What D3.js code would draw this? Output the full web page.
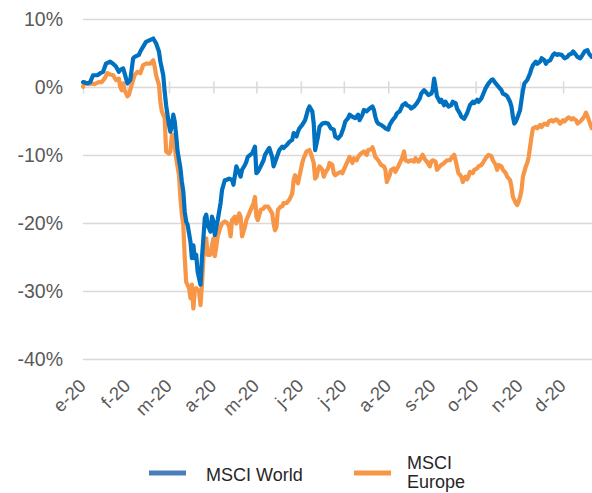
<!DOCTYPE html>
<html>
<head>
	<title>MSCI World vs MSCI Europe 2020</title>
	<script src="https://d3js.org/d3.v7.min.js"></script>
	<style>
		body { margin: 0; background: #fff; }
		text { font-family: "Liberation Sans", Arial, sans-serif; }
	</style>
</head>
<body>
	<div id="chart"></div>

	<script type="text/javascript">

//<------------------------------------DATA----------------------------------------------->
		// month tick labels (spanish initials)
		var monthLabels = ["e-20","f-20","m-20","a-20","m-20","j-20","j-20","a-20","s-20","o-20","n-20","d-20"];
		var yTicks = [10, 0, -10, -20, -30, -40];
		var seriesNames = ["MSCI World", "MSCI Europe"];

		// cumulative return in %, [month-day of 2020, value]
		var world = [
			["01-01",0.8],["01-04",0.6],["01-06",0.8],["01-08",1.8],["01-11",1.8],["01-13",2.1],["01-15",2.3],["01-17",3.5],
			["01-20",3.8],["01-22",3.5],["01-24",3.1],["01-26",2.3],["01-27",2.6],["01-29",2.8],["01-30",2.1],["02-01",0.6],
			["02-03",1.1],["02-05",4.3],["02-06",4.5],["02-09",4.8],["02-10",5.3],["02-12",6.0],["02-14",6.7],["02-17",7.0],
			["02-19",7.2],["02-21",6.5],["02-23",5.3],["02-24",3.8],["02-26",1.8],["02-27",-0.6],["02-28",-2.6],["03-01",-5.5],
			["03-02",-6.5],["03-03",-5.5],["03-04",-4.0],["03-05",-5.0],["03-06",-7.0],["03-07",-9.4],["03-09",-11.9],["03-10",-13.9],
			["03-11",-15.3],["03-12",-18.3],["03-13",-19.7],["03-14",-20.2],["03-16",-22.7],["03-17",-25.1],["03-18",-23.2],["03-19",-25.1],
			["03-20",-24.6],["03-21",-27.1],["03-23",-29.0],["03-24",-25.1],["03-25",-22.2],["03-26",-19.2],["03-27",-18.7],["03-28",-20.2],
			["03-30",-21.2],["03-31",-19.0],["04-01",-19.7],["04-02",-21.7],["04-04",-19.5],["04-06",-17.0],["04-07",-15.1],["04-09",-13.6],
			["04-10",-13.6],["04-12",-13.4],["04-14",-13.6],["04-15",-14.3],["04-17",-11.6],["04-18",-12.1],["04-20",-13.1],["04-21",-12.1],
			["04-23",-11.4],["04-24",-10.9],["04-25",-10.2],["04-28",-9.7],["04-30",-8.7],["05-01",-12.6],["05-02",-12.4],["05-04",-11.6],
			["05-06",-10.7],["05-07",-9.9],["05-09",-9.2],["05-10",-8.9],["05-12",-10.2],["05-13",-11.6],["05-15",-10.4],["05-17",-9.2],
			["05-19",-8.7],["05-20",-8.9],["05-22",-8.5],["05-24",-8.0],["05-26",-7.7],["05-27",-6.7],["05-29",-7.2],["05-30",-6.5],
			["05-31",-6.0],["06-02",-5.5],["06-04",-4.8],["06-06",-3.3],["06-07",-2.8],["06-09",-3.5],["06-10",-5.3],["06-11",-9.2],
			["06-13",-7.2],["06-14",-5.8],["06-16",-5.3],["06-18",-5.2],["06-20",-5.3],["06-22",-6.0],["06-24",-6.2],["06-25",-7.2],
			["06-27",-7.5],["06-29",-7.0],["07-01",-5.8],["07-02",-5.0],["07-04",-4.5],["07-05",-4.0],["07-07",-4.3],["07-09",-4.5],
			["07-11",-4.0],["07-12",-4.8],["07-14",-4.0],["07-15",-3.3],["07-17",-3.5],["07-19",-3.1],["07-21",-2.8],["07-22",-3.3],
			["07-23",-4.3],["07-24",-5.0],["07-25",-5.3],["07-27",-5.5],["07-29",-5.8],["07-30",-6.0],["08-01",-6.2],["08-02",-5.5],
			["08-04",-4.8],["08-06",-4.3],["08-07",-3.8],["08-09",-3.5],["08-11",-2.6],["08-13",-2.3],["08-14",-2.6],["08-16",-2.8],
			["08-17",-3.1],["08-19",-2.8],["08-21",-2.3],["08-23",-1.6],["08-24",-0.9],["08-26",-0.4],["08-27",-0.6],["08-29",-1.1],
			["08-31",-0.9],["09-01",-0.4],["09-02",1.3],["09-03",0.1],["09-04",-1.3],["09-06",-2.1],["09-07",-1.8],["09-09",-2.6],
			["09-10",-2.1],["09-12",-2.8],["09-14",-2.6],["09-15",-2.1],["09-17",-2.3],["09-18",-3.1],["09-20",-3.8],["09-21",-4.3],
			["09-23",-4.6],["09-24",-4.2],["09-25",-3.8],["09-27",-2.6],["09-29",-2.1],["09-30",-2.3],["10-02",-1.8],["10-03",-2.1],
			["10-05",-1.6],["10-06",-1.1],["10-08",-0.1],["10-10",0.6],["10-12",1.1],["10-13",1.2],["10-15",0.6],["10-17",0.1],
			["10-19",-0.4],["10-20",-0.9],["10-22",-1.1],["10-23",-1.3],["10-25",-2.1],["10-26",-2.8],["10-27",-4.3],["10-28",-5.3],
			["10-29",-5.0],["10-30",-4.5],["11-01",-3.3],["11-02",-1.8],["11-03",-0.4],["11-04",0.6],["11-06",1.1],["11-08",2.1],
			["11-09",2.8],["11-10",3.3],["11-12",3.8],["11-13",3.5],["11-15",3.8],["11-16",4.3],["11-18",4.0],["11-19",3.5],
			["11-20",3.8],["11-22",4.0],["11-24",4.8],["11-25",5.0],["11-27",4.8],["11-28",4.9],["11-30",4.8],["12-02",4.3],
			["12-04",4.5],["12-05",4.8],["12-07",5.0],["12-08",5.3],["12-10",4.8],["12-11",4.5],["12-13",4.3],["12-14",4.6],
			["12-16",5.3],["12-18",5.5],["12-19",5.0],["12-21",4.5]
		];

		var europe = [
			["01-01",0.1],["01-02",0.8],["01-05",0.5],["01-07",0.6],["01-09",0.5],["01-12",0.8],["01-14",0.8],["01-16",1.3],
			["01-18",2.1],["01-20",1.9],["01-22",1.8],["01-24",1.1],["01-26",1.3],["01-27",0.1],["01-28",-0.4],["01-29",0.6],
			["01-30",-0.4],["02-01",-1.3],["02-02",-1.1],["02-04",0.4],["02-06",1.8],["02-08",2.3],["02-10",2.1],["02-12",3.3],
			["02-14",3.5],["02-17",3.5],["02-19",4.0],["02-20",3.1],["02-21",1.8],["02-23",0.4],["02-24",-2.1],["02-25",-3.5],
			["02-27",-4.5],["02-28",-9.4],["03-01",-9.7],["03-02",-9.4],["03-03",-7.0],["03-04",-7.0],["03-05",-8.5],["03-06",-10.4],
			["03-08",-12.9],["03-09",-16.3],["03-10",-18.7],["03-11",-20.2],["03-12",-25.1],["03-13",-28.6],["03-15",-29.5],["03-16",-31.0],
			["03-17",-29.0],["03-18",-32.5],["03-19",-30.0],["03-20",-29.5],["03-22",-30.0],["03-23",-32.0],["03-24",-29.0],["03-25",-25.1],
			["03-26",-22.7],["03-27",-22.2],["03-28",-24.6],["03-30",-24.6],["03-31",-23.2],["04-01",-22.2],["04-02",-24.8],["04-03",-23.4],
			["04-04",-21.9],["04-06",-20.5],["04-07",-20.0],["04-09",-19.7],["04-11",-20.0],["04-12",-20.5],["04-13",-21.9],["04-14",-19.5],
			["04-16",-19.0],["04-17",-20.0],["04-19",-18.5],["04-20",-19.0],["04-21",-21.9],["04-23",-20.5],["04-24",-19.5],["04-25",-19.0],
			["04-27",-18.0],["04-29",-17.0],["04-30",-16.1],["05-01",-19.0],["05-02",-19.5],["05-04",-18.0],["05-06",-17.8],["05-07",-17.5],
			["05-09",-17.5],["05-10",-17.8],["05-12",-18.5],["05-13",-20.0],["05-14",-21.0],["05-15",-20.5],["05-16",-18.0],["05-18",-17.5],
			["05-19",-17.5],["05-20",-17.0],["05-22",-17.0],["05-24",-16.5],["05-26",-15.6],["05-27",-13.6],["05-28",-12.9],["05-30",-14.1],
			["05-31",-13.1],["06-02",-11.1],["06-03",-10.4],["06-05",-9.4],["06-07",-9.2],["06-08",-9.7],["06-10",-11.1],["06-11",-13.4],
			["06-12",-13.1],["06-13",-12.1],["06-14",-11.6],["06-16",-12.1],["06-17",-13.1],["06-18",-12.6],["06-20",-11.9],["06-21",-11.1],
			["06-23",-11.4],["06-24",-12.6],["06-25",-12.9],["06-27",-12.6],["06-29",-12.4],["06-30",-12.6],["07-02",-11.6],["07-04",-10.7],
			["07-05",-10.2],["07-07",-11.1],["07-08",-10.4],["07-10",-10.7],["07-11",-10.2],["07-13",-9.7],["07-15",-9.4],["07-17",-9.9],
			["07-18",-9.2],["07-20",-9.1],["07-21",-8.8],["07-22",-9.4],["07-23",-10.2],["07-25",-10.7],["07-27",-11.4],["07-29",-11.6],
			["07-30",-12.1],["07-31",-13.9],["08-02",-12.9],["08-03",-12.1],["08-05",-11.9],["08-06",-12.4],["08-08",-11.6],["08-10",-10.7],
			["08-11",-10.2],["08-12",-9.4],["08-13",-10.7],["08-15",-10.9],["08-17",-10.7],["08-19",-10.9],["08-20",-10.4],["08-22",-10.9],
			["08-23",-10.7],["08-25",-9.9],["08-27",-10.7],["08-28",-10.9],["08-30",-11.6],["08-31",-10.9],["09-01",-10.7],["09-03",-10.9],
			["09-04",-12.1],["09-06",-11.6],["09-07",-11.4],["09-09",-11.1],["09-11",-10.7],["09-13",-10.7],["09-14",-10.4],["09-16",-9.9],
			["09-17",-10.7],["09-19",-12.6],["09-21",-13.1],["09-22",-13.9],["09-24",-13.1],["09-25",-13.5],["09-26",-13.1],["09-27",-12.4],
			["09-29",-12.6],["09-30",-12.1],["10-02",-11.9],["10-03",-11.6],["10-05",-11.4],["10-06",-11.1],["10-08",-10.4],["10-10",-9.9],
			["10-12",-10.1],["10-13",-10.7],["10-15",-11.4],["10-16",-12.1],["10-17",-11.4],["10-19",-11.6],["10-20",-12.1],["10-22",-12.6],
			["10-23",-13.1],["10-25",-13.6],["10-26",-14.6],["10-27",-16.1],["10-29",-17.0],["10-30",-17.3],["10-31",-16.8],["11-01",-16.1],
			["11-02",-15.1],["11-03",-13.1],["11-05",-11.6],["11-06",-11.1],["11-07",-10.2],["11-08",-8.7],["11-09",-7.2],["11-10",-6.0],
			["11-12",-5.8],["11-13",-6.0],["11-15",-5.5],["11-16",-5.8],["11-18",-5.3],["11-20",-5.5],["11-21",-5.0],["11-23",-4.8],
			["11-24",-5.0],["11-26",-4.7],["11-27",-4.8],["11-29",-5.3],["12-01",-4.8],["12-02",-5.0],["12-04",-4.5],["12-05",-4.4],
			["12-07",-4.7],["12-08",-4.5],["12-10",-4.8],["12-11",-5.3],["12-13",-5.0],["12-15",-4.5],["12-16",-4.2],["12-17",-3.7],
			["12-18",-4.2],["12-19",-4.8],["12-21",-6.0]
		];

//<------------------------------------GRAPH----------------------------------------------->
		var width = 592;
		var height = 493;
		var plot = {left: 83, top: 19.5, bottom: 359.5};

		var parse = d3.timeParse("%Y-%m-%d");
		function toPoints(arr){
			return arr.map(function(d){ return {date: parse("2020-" + d[0]), value: d[1]}; });
		}

		var svg = d3.select("#chart")
						.append("svg")
							.attr("width", width)
							.attr("height", height);

		var start = new Date(2020, 0, 1);
		var end = new Date(2021, 0, 1);
		// one year spans ~524px; the picture is cut at the right edge
		var xScale = d3.scaleTime().domain([start, end]).range([plot.left, plot.left + 524.5]);
		var yScale = d3.scaleLinear().domain([-40, 10]).range([plot.bottom, plot.top]);

		// gridlines
		svg.append("g")
			.selectAll("line")
			.data(yTicks)
			.enter().append("line")
				.attr("x1", plot.left)
				.attr("x2", width)
				.attr("y1", function(d){ return yScale(d); })
				.attr("y2", function(d){ return yScale(d); })
				.style("stroke", "#d9d9d9")
				.style("stroke-width", 1.5);

		// y axis labels
		var yAxis = svg.append("g")
			.attr("transform", "translate(" + plot.left + ",0)")
			.call(d3.axisLeft(yScale).tickValues(yTicks).tickSize(0).tickPadding(20)
				.tickFormat(function(d){ return d + "%"; }));
		yAxis.select(".domain").remove();
		yAxis.selectAll("text")
			.style("font-family", "Liberation Sans, Arial, sans-serif")
			.style("font-size", "19.5px")
			.style("fill", "#595959");

		// x axis sits on the 0% line, with crossing tick marks
		var months = d3.timeMonth.range(start, end);
		var xAxis = svg.append("g")
			.attr("transform", "translate(0," + yScale(0) + ")")
			.call(d3.axisBottom(xScale).tickValues(months).tickSize(6).tickFormat(""));
		xAxis.select(".domain").remove();
		xAxis.selectAll(".tick line")
			.attr("y1", -6)
			.style("stroke", "#d9d9d9")
			.style("stroke-width", 1.5);

		// rotated month labels at the bottom
		svg.append("g")
			.selectAll("text")
			.data(months)
			.enter().append("text")
				.attr("transform", function(d){ return "translate(" + (xScale(d) + 4) + ",387) rotate(-45)"; })
				.style("text-anchor", "end")
				.style("font-size", "18.5px")
				.style("fill", "#595959")
				.text(function(d, i){ return monthLabels[i]; });

		// lines
		var line = d3.line()
			.x(function(d){ return xScale(d.date); })
			.y(function(d){ return yScale(d.value); });

		var lineColors = ["#0070c0", "#f79646"];
		var legendColors = ["#4a7ebb", "#f79646"];

		// europe drawn first so world sits on top
		[[europe, 1], [world, 0]].forEach(function(s){
			svg.append("path")
				.datum(toPoints(s[0]))
				.attr("d", line)
				.style("fill", "none")
				.style("stroke", lineColors[s[1]])
				.style("stroke-width", 4.2)
				.style("stroke-linejoin", "round")
				.style("stroke-linecap", "round");
		});

//<------------------------------------LEGEND---------------------------------------------->
		var legend = svg.append("g");
		legend.append("line")
			.attr("x1", 149).attr("x2", 186).attr("y1", 473).attr("y2", 473)
			.style("stroke", legendColors[0]).style("stroke-width", 5);
		legend.append("text")
			.attr("x", 206).attr("y", 481)
			.style("font-size", "18px").style("fill", "#262626")
			.text(seriesNames[0]);

		legend.append("line")
			.attr("x1", 354).attr("x2", 391).attr("y1", 473).attr("y2", 473)
			.style("stroke", legendColors[1]).style("stroke-width", 5);
		var eu = legend.append("text")
			.attr("x", 407).attr("y", 469)
			.style("font-size", "18px").style("fill", "#262626");
		eu.append("tspan").attr("x", 407).text(seriesNames[1].split(" ")[0]);
		eu.append("tspan").attr("x", 407).attr("dy", 19).text(seriesNames[1].split(" ")[1]);

	</script>
</body>
</html>
